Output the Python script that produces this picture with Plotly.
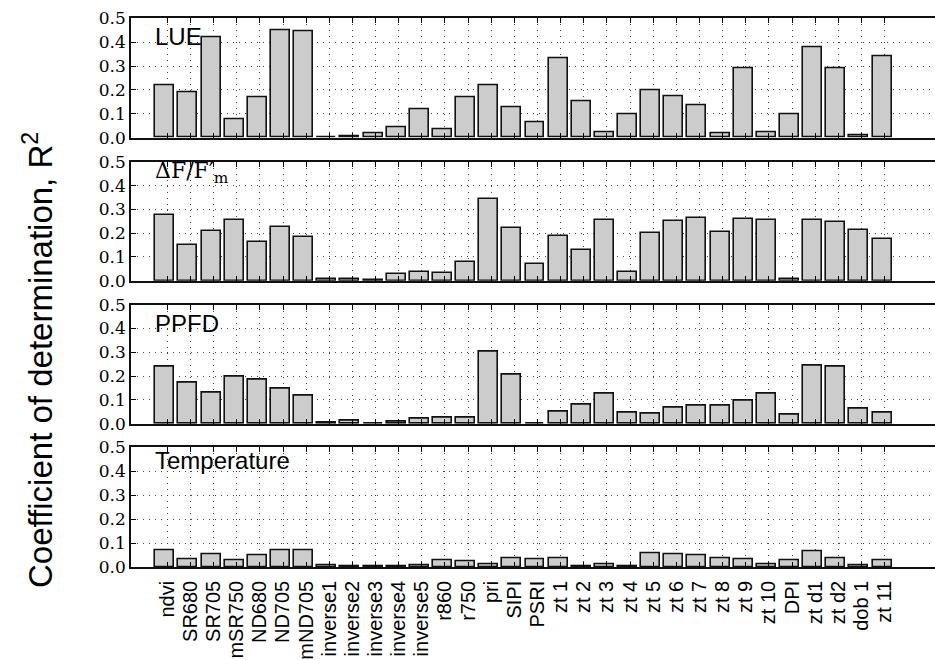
import plotly.graph_objects as go

# Spectral indices on the x axis
categories = ["ndvi", "SR680", "SR705", "mSR750", "ND680", "ND705", "mND705",
              "inverse1", "inverse2", "inverse3", "inverse4", "inverse5",
              "r860", "r750", "pri", "SIPI", "PSRI",
              "zt 1", "zt 2", "zt 3", "zt 4", "zt 5", "zt 6", "zt 7", "zt 8", "zt 9",
              "zt 10", "DPI", "zt d1", "zt d2", "dob 1", "zt 11"]

# R² of each index against each response variable
lue = [0.219, 0.189, 0.420, 0.077, 0.168, 0.448, 0.447,
       0.002, 0.006, 0.018, 0.043, 0.117,
       0.034, 0.170, 0.219, 0.126, 0.064,
       0.331, 0.151, 0.022, 0.096, 0.198, 0.172, 0.135, 0.018, 0.289,
       0.022, 0.098, 0.378, 0.292, 0.010, 0.342]
dff = [0.277, 0.150, 0.211, 0.256, 0.162, 0.226, 0.184,
       0.006, 0.006, 0.004, 0.029, 0.035,
       0.031, 0.077, 0.343, 0.223, 0.069,
       0.187, 0.131, 0.256, 0.037, 0.201, 0.251, 0.263, 0.206, 0.260,
       0.254, 0.008, 0.257, 0.247, 0.213, 0.174]
ppfd = [0.239, 0.172, 0.132, 0.197, 0.185, 0.147, 0.119,
        0.006, 0.011, 0.001, 0.008, 0.021,
        0.024, 0.024, 0.303, 0.204, 0.002,
        0.050, 0.078, 0.126, 0.045, 0.042, 0.069, 0.074, 0.076, 0.095,
        0.126, 0.039, 0.242, 0.238, 0.062, 0.048]
temperature = [0.070, 0.033, 0.052, 0.029, 0.047, 0.070, 0.068,
               0.006, 0.001, 0.001, 0.003, 0.006,
               0.029, 0.022, 0.013, 0.038, 0.032,
               0.035, 0.001, 0.010, 0.003, 0.058, 0.053, 0.050, 0.038, 0.031,
               0.010, 0.029, 0.065, 0.036, 0.006, 0.028]

panel_series = [lue, dff, ppfd, temperature]
panel_titles = ["LUE", "ΔF/F′<sub>m</sub>", "PPFD", "Temperature"]
y_ticks = [0.0, 0.1, 0.2, 0.3, 0.4, 0.5]

W, H = 935, 660
# pixel extents of the four panels (top, bottom)
panel_px = [(18.3, 137.7), (162.0, 280.7), (304.7, 423.7), (447.3, 567.0)]
left_px = 131.0
tick0_px, step_px = 167.3, 23.14
x_lo = (left_px - tick0_px) / step_px
x_hi = (W - tick0_px) / step_px

fig = go.Figure()
xs = list(range(len(categories)))
serif = "DejaVu Serif"
sans = "Liberation Sans"

for k, vals in enumerate(panel_series):
    n = "" if k == 0 else str(k + 1)
    fig.add_trace(go.Bar(
        x=xs, y=vals, width=0.82, offset=-0.52,
        marker=dict(color="#cccccc", line=dict(color="#111111", width=1.6)),
        xaxis="x" + n, yaxis="y" + n, showlegend=False,
    ))
    top, bot = panel_px[k]
    dom = [1 - bot / H, 1 - top / H]
    fig.layout["xaxis" + n] = dict(
        domain=[left_px / W, 1.0], range=[x_lo, x_hi], anchor="y" + n,
        automargin=False,
        tickmode="array", tickvals=xs,
        ticktext=categories if k == 3 else [""] * len(xs),
        showticklabels=(k == 3), tickangle=-90, ticklabelstandoff=4,
        tickfont=dict(family=sans, size=20, color="black"),
        ticks="inside", ticklen=5, tickcolor="black", tickwidth=1,
        showline=True, linecolor="#111111", linewidth=1.6, mirror="ticks",
        showgrid=True, gridcolor="#444444", gridwidth=1, griddash="1px,5px",
        zeroline=False,
    )
    fig.layout["yaxis" + n] = dict(
        domain=dom, range=[0, 0.5], anchor="x" + n,
        automargin=False,
        tickmode="array", tickvals=y_ticks,
        ticktext=[f"{v:.1f}" for v in y_ticks],
        tickfont=dict(family=serif, size=17, color="black"),
        ticks="inside", ticklen=5, tickcolor="black",
        showline=True, linecolor="#111111", linewidth=1.6, mirror=False,
        showgrid=True, gridcolor="#444444", gridwidth=1, griddash="1px,5px",
        zeroline=False,
    )

# panel labels (baseline pixel rows)
label_base = [44.5, 181.0, 332.0, 469.0]
for k, txt in enumerate(panel_titles):
    fam = serif if k == 1 else sans
    fig.add_annotation(
        text=txt, xref="paper", yref="paper",
        x=153 / W, y=1 - (label_base[k] - 8.5) / H,
        xanchor="left", yanchor="middle", showarrow=False,
        font=dict(family=fam, size=24 if k != 1 else 22, color="black"),
    )

fig.add_annotation(
    text="Coefficient of determination, R<sup>2</sup>",
    xref="paper", yref="paper", x=38 / W, y=1 - 360 / H,
    xanchor="center", yanchor="middle", textangle=-90, showarrow=False,
    font=dict(family=sans, size=33, color="black"),
)

fig.update_layout(
    width=W, height=H, margin=dict(l=0, r=0, t=0, b=0),
    paper_bgcolor="white", plot_bgcolor="white", bargap=0,
)

fig.write_html("out.html")
